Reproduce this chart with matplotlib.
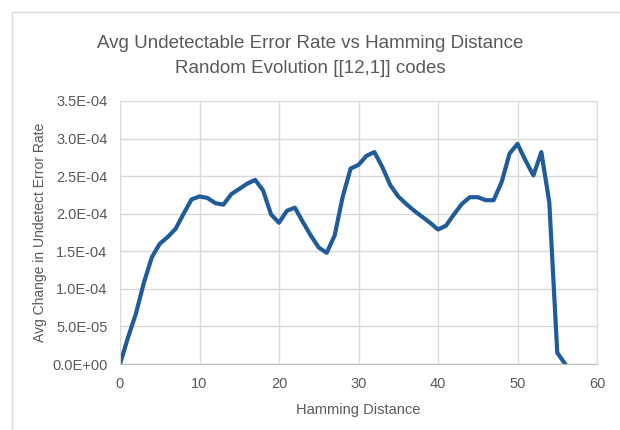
import matplotlib.pyplot as plt
from matplotlib.patches import Rectangle

# hamming distance vs avg change in undetectable error rate
distance = list(range(57))
rate = [0.0, 0.35e-4, 0.67e-4, 1.08e-4, 1.42e-4, 1.6e-4, 1.69e-4, 1.8e-4, 2.0e-4, 2.19e-4,
        2.23e-4, 2.21e-4, 2.14e-4, 2.12e-4, 2.26e-4, 2.33e-4, 2.4e-4, 2.45e-4, 2.31e-4, 1.99e-4,
        1.88e-4, 2.04e-4, 2.08e-4, 1.89e-4, 1.71e-4, 1.55e-4, 1.48e-4, 1.71e-4, 2.22e-4, 2.6e-4,
        2.65e-4, 2.77e-4, 2.82e-4, 2.62e-4, 2.38e-4, 2.23e-4, 2.13e-4, 2.04e-4, 1.96e-4, 1.88e-4,
        1.79e-4, 1.84e-4, 1.99e-4, 2.13e-4, 2.22e-4, 2.22e-4, 2.18e-4, 2.18e-4, 2.42e-4, 2.8e-4,
        2.93e-4, 2.71e-4, 2.51e-4, 2.82e-4, 2.15e-4, 0.15e-4, 0.0]

x_ticks = [0, 10, 20, 30, 40, 50, 60]
y_ticks = [0, 0.5e-4, 1.0e-4, 1.5e-4, 2.0e-4, 2.5e-4, 3.0e-4, 3.5e-4]

plt.rcParams['font.family'] = ['Liberation Sans', 'DejaVu Sans']
grey = '#595959'

fig = plt.figure(figsize=(6.2, 4.3), dpi=100)
# chart area border like the excel chart
fig.patches.append(Rectangle((12 / 620, -0.1), 1.0, (430 - 12) / 430 + 0.1, transform=fig.transFigure,
                             fill=False, edgecolor='#d9d9d9', linewidth=1))
ax = fig.add_axes([120 / 620, (430 - 364) / 430, 477 / 620, 263 / 430])

ax.plot(distance, rate, color='#1f5c99', linewidth=3, solid_joinstyle='round')

ax.set_xlim(0, 60)
ax.set_ylim(0, 3.5e-4)
ax.set_xticks(x_ticks)
ax.set_yticks(y_ticks)
ax.set_yticklabels(['%.1E' % v for v in y_ticks])
ax.grid(True, color='#d9d9d9', linewidth=1)
ax.set_axisbelow(True)
for s in ax.spines.values():
    s.set_color('#d9d9d9')
ax.spines['bottom'].set_color('#bfbfbf')
ax.tick_params(length=0, colors=grey, labelsize=10.5, pad=9)

ax.set_xlabel('Hamming Distance', color=grey, fontsize=10.5, labelpad=9)
ax.set_ylabel('Avg Change in Undetect Error Rate', color=grey, fontsize=10, labelpad=4)
fig.text(0.5, 0.87, 'Avg Undetectable Error Rate vs Hamming Distance\nRandom Evolution [[12,1]] codes',
         ha='center', va='center', color=grey, fontsize=13.5, linespacing=1.6)

fig.savefig('out.png', dpi=100)
